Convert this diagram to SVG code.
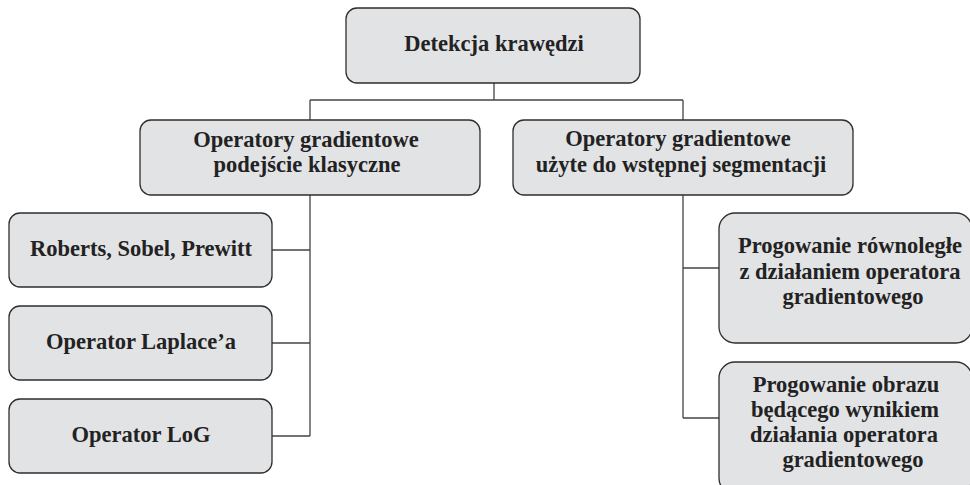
<svg xmlns="http://www.w3.org/2000/svg" width="970" height="485" viewBox="0 0 970 485">
<style>
.box{fill:#e2e3e5;stroke:#2e2e2e;stroke-width:1.3}
.t{font-weight:700;font-size:22.5px;fill:#222;text-anchor:middle}
.c{fill:none;stroke:#444;stroke-width:1.3}
</style>
<rect width="970" height="485" fill="#ffffff"/>
<g id="connectors">
<path class="c" d="M494 83V100M310 100H683M310 100V120M683 100V120"/>
<path class="c" d="M310 195V436M272 250H310M272 343H310M272 436H310"/>
<path class="c" d="M683 195V418M683 268H719M683 418H719"/>
</g>
<g font-family="Liberation Serif, Times New Roman, serif">
<g id="n-root">
<rect class="box" x="346" y="8" width="294" height="75" rx="11"/>
<text class="t" x="494" y="51">Detekcja krawędzi</text>
</g>
<g id="n-classic">
<rect class="box" x="140" y="120" width="340" height="75" rx="11"/>
<text class="t" x="306" y="147">Operatory gradientowe</text>
<text class="t" x="307" y="172">podejście klasyczne</text>
</g>
<g id="n-segm">
<rect class="box" x="513" y="120" width="340" height="75" rx="11"/>
<text class="t" x="678" y="146">Operatory gradientowe</text>
<text class="t" x="681" y="172">użyte do wstępnej segmentacji</text>
</g>
<g id="n-roberts">
<rect class="box" x="9" y="213" width="263" height="74" rx="11"/>
<text class="t" x="141" y="256">Roberts, Sobel, Prewitt</text>
</g>
<g id="n-laplace">
<rect class="box" x="9" y="306" width="263" height="74" rx="11"/>
<text class="t" x="141" y="349">Operator Laplace’a</text>
</g>
<g id="n-log">
<rect class="box" x="9" y="399" width="263" height="74" rx="11"/>
<text class="t" x="141" y="442">Operator LoG</text>
</g>
<g id="n-prog1">
<rect class="box" x="719" y="213" width="253" height="130" rx="16"/>
<text class="t" x="850" y="253">Progowanie równoległe</text>
<text class="t" x="850" y="279">z działaniem operatora</text>
<text class="t" x="853" y="304">gradientowego</text>
</g>
<g id="n-prog2">
<rect class="box" x="719" y="362" width="253" height="132" rx="16"/>
<text class="t" x="846" y="392">Progowanie obrazu</text>
<text class="t" x="845" y="417">będącego wynikiem</text>
<text class="t" x="844" y="442">działania operatora</text>
<text class="t" x="853" y="467">gradientowego</text>
</g>
</g>
</svg>
